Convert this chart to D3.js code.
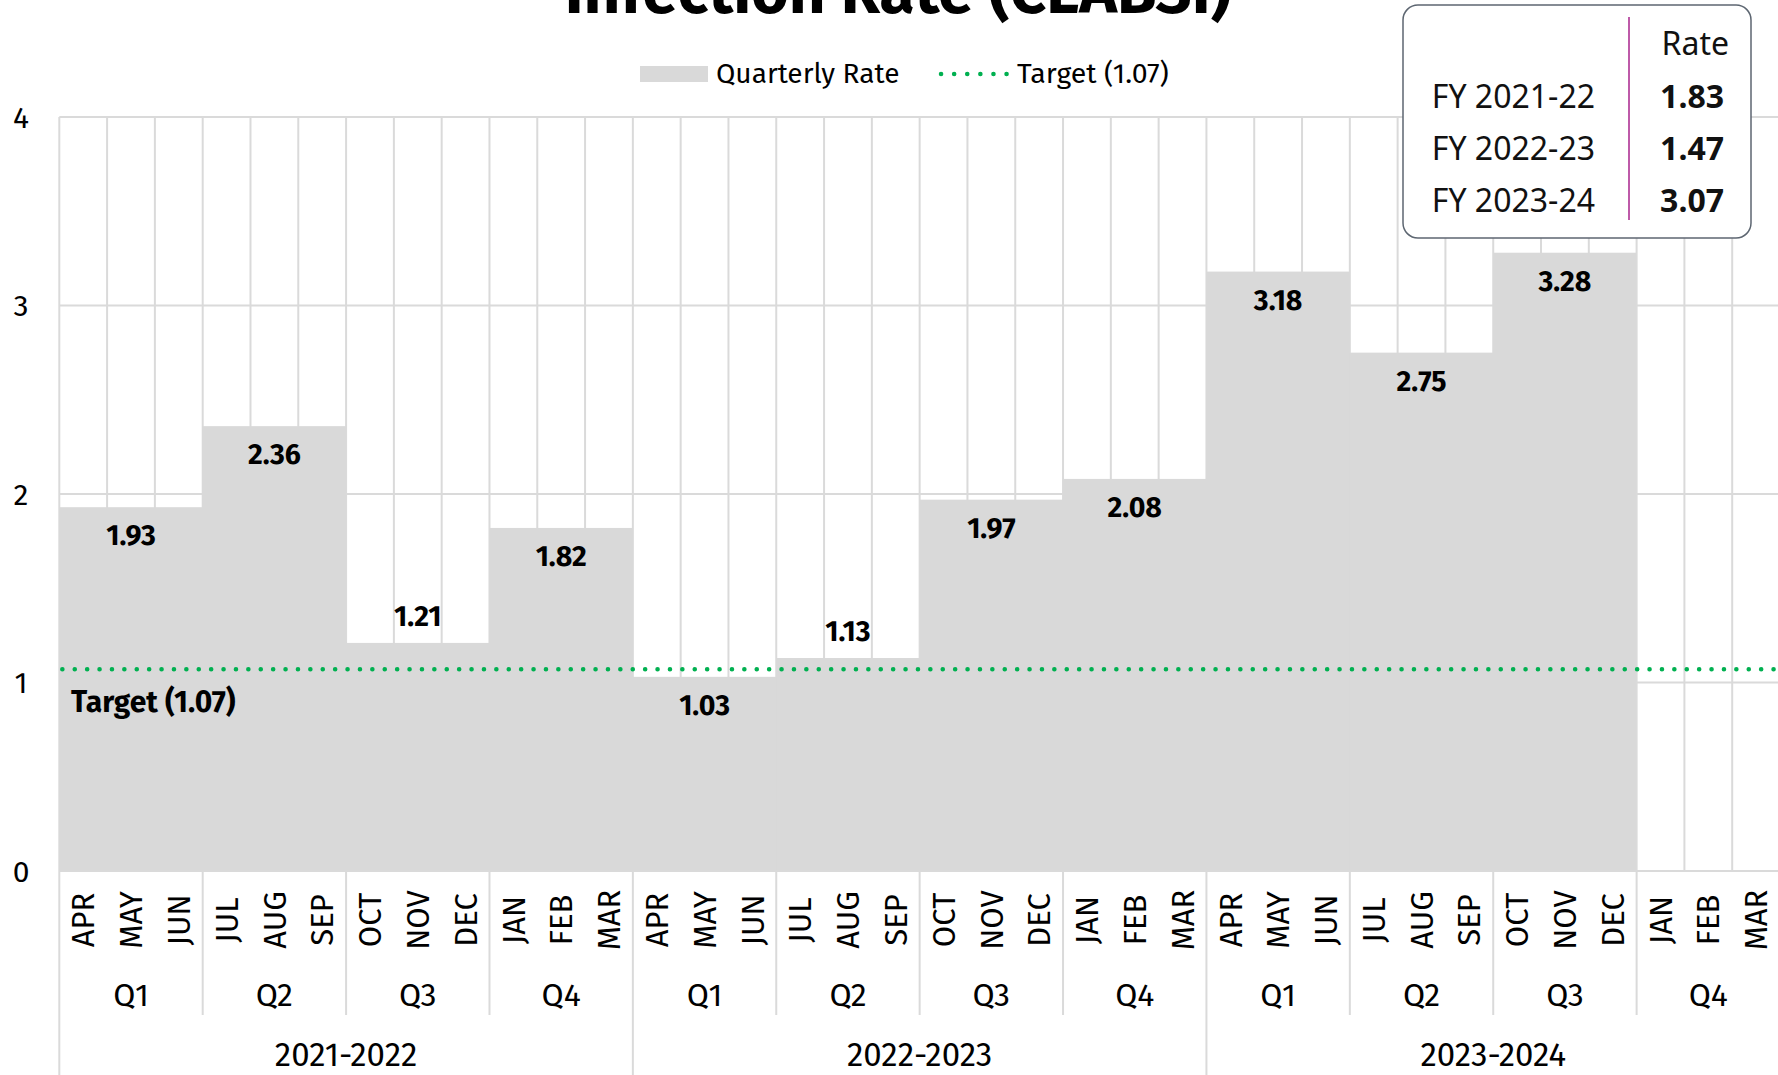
<!DOCTYPE html>
<html>
<head>
<meta charset="utf-8">
<script src="https://cdn.jsdelivr.net/npm/d3@7"></script>
<style>
  html, body { margin: 0; padding: 0; background: #fff; overflow: hidden; }
  text { font-family: "Fira Sans", "Open Sans", sans-serif; fill: #000; }
  .tip text { font-family: "Noto Sans", sans-serif; fill: #111; }
</style>
</head>
<body>
<div id="chart"></div>
<script>
// chart values
const years = ['2021-2022', '2022-2023', '2023-2024']
const quarters = ['Q1', 'Q2', 'Q3', 'Q4']
const months = ['APR', 'MAY', 'JUN', 'JUL', 'AUG', 'SEP', 'OCT', 'NOV', 'DEC', 'JAN', 'FEB', 'MAR']
const quarterlyRate = [1.93, 2.36, 1.21, 1.82, 1.03, 1.13, 1.97, 2.08, 3.18, 2.75, 3.28, null]
const target = 1.07
const yTicks = [0, 1, 2, 3, 4]
const fyLabels = ['FY 2021-22', 'FY 2022-23', 'FY 2023-24']
const fyRates = [1.83, 1.47, 3.07]

let width = 1778
let height = 1075

let svg = d3
  .select('#chart')
  .append('svg')
  .attr('width', width)
  .attr('height', height)

let nMonths = years.length * months.length

let x = d3.scaleLinear().domain([0, nMonths]).range([59.3, 1780])
let y = d3.scaleLinear().domain([0, 4]).range([871, 117])

let grid = '#dadada'
let barFill = '#d9d9d9'

// month + quarter rows built from the arrays
let monthRows = []
years.forEach((yr, yi) => {
  months.forEach((m, mi) => monthRows.push({ label: m, i: yi * 12 + mi }))
})
let quarterRows = []
years.forEach((yr, yi) => {
  quarters.forEach((q, qi) => {
    quarterRows.push({ label: q, i: yi * 4 + qi, value: quarterlyRate[yi * 4 + qi] })
  })
})

// vertical gridlines at every month
svg
  .selectAll('.vgrid')
  .data(d3.range(nMonths + 1))
  .enter()
  .append('line')
  .attr('x1', d => x(d))
  .attr('x2', d => x(d))
  .attr('y1', y(4))
  .attr('y2', y(0))
  .attr('stroke', grid)
  .attr('stroke-width', 2)

// horizontal gridlines
svg
  .selectAll('.hgrid')
  .data(yTicks)
  .enter()
  .append('line')
  .attr('x1', x(0))
  .attr('x2', x(nMonths))
  .attr('y1', d => y(d))
  .attr('y2', d => y(d))
  .attr('stroke', grid)
  .attr('stroke-width', 2)

// quarterly step bars
let bars = quarterRows.filter(d => d.value != null)
svg
  .selectAll('.bar')
  .data(bars)
  .enter()
  .append('rect')
  .attr('x', d => x(d.i * 3))
  .attr('width', d => x(d.i * 3 + 3) - x(d.i * 3))
  .attr('y', d => y(d.value))
  .attr('height', d => y(0) - y(d.value))
  .attr('fill', barFill)

// x axis base line
svg
  .append('line')
  .attr('x1', x(0))
  .attr('x2', x(nMonths))
  .attr('y1', y(0))
  .attr('y2', y(0))
  .attr('stroke', grid)
  .attr('stroke-width', 2)

// target line
svg
  .append('line')
  .attr('x1', x(0) + 3)
  .attr('x2', x(nMonths))
  .attr('y1', y(target))
  .attr('y2', y(target))
  .attr('stroke', '#00b050')
  .attr('stroke-width', 4.5)
  .attr('stroke-linecap', 'round')
  .attr('stroke-dasharray', '0.1 12.3')

svg
  .append('text')
  .text('Target (' + target.toFixed(2) + ')')
  .attr('x', 71)
  .attr('y', y(target) + 43)
  .attr('font-size', '30px')
  .attr('font-weight', 'bold')

// value labels (above the bar when it sits just over the target line)
svg
  .selectAll('.val')
  .data(bars)
  .enter()
  .append('text')
  .text(d => d.value.toFixed(2))
  .attr('x', d => x(d.i * 3 + 1.5))
  .attr('y', d => {
    if (d.value > target && d.value - target < 0.3) return y(d.value) - 17
    return y(d.value) + 38
  })
  .attr('text-anchor', 'middle')
  .attr('font-size', '28.5px')
  .attr('font-weight', 'bold')

// y tick labels
svg
  .selectAll('.ytick')
  .data(yTicks)
  .enter()
  .append('text')
  .text(d => d)
  .attr('x', 21)
  .attr('y', d => y(d))
  .attr('dy', '0.36em')
  .attr('text-anchor', 'middle')
  .attr('font-size', '30px')

// month labels (rotated)
svg
  .selectAll('.month')
  .data(monthRows)
  .enter()
  .append('text')
  .text(d => d.label)
  .attr('transform', d => 'translate(' + x(d.i + 0.5) + ',920) rotate(-90)')
  .attr('dy', '0.36em')
  .attr('text-anchor', 'middle')
  .attr('font-size', '31px')

// quarter labels + separators
svg
  .selectAll('.qlab')
  .data(quarterRows)
  .enter()
  .append('text')
  .text(d => d.label)
  .attr('x', d => x(d.i * 3 + 1.5))
  .attr('y', 1006)
  .attr('text-anchor', 'middle')
  .attr('font-size', '32px')

svg
  .selectAll('.qsep')
  .data(d3.range(0, nMonths + 1, 3))
  .enter()
  .append('line')
  .attr('x1', d => x(d))
  .attr('x2', d => x(d))
  .attr('y1', y(0))
  .attr('y2', d => (d % 12 == 0 ? height : 1015))
  .attr('stroke', grid)
  .attr('stroke-width', 2)

// year labels
svg
  .selectAll('.ylab')
  .data(years)
  .enter()
  .append('text')
  .text(d => d)
  .attr('x', (d, i) => x(i * 12 + 6))
  .attr('y', 1066)
  .attr('text-anchor', 'middle')
  .attr('font-size', '33px')

// title (partly above the page edge)
svg
  .append('text')
  .text('Infection Rate (CLABSI)')
  .attr('x', 898)
  .attr('y', 13)
  .attr('text-anchor', 'middle')
  .attr('font-size', '64px')
  .attr('font-weight', 'bold')

// legend
svg
  .append('rect')
  .attr('x', 640)
  .attr('y', 66)
  .attr('width', 68)
  .attr('height', 16)
  .attr('fill', barFill)

svg
  .append('text')
  .text('Quarterly Rate')
  .attr('x', 716)
  .attr('y', 83)
  .attr('font-size', '28px')

svg
  .append('line')
  .attr('x1', 941)
  .attr('x2', 1008)
  .attr('y1', 74)
  .attr('y2', 74)
  .attr('stroke', '#00b050')
  .attr('stroke-width', 4.5)
  .attr('stroke-linecap', 'round')
  .attr('stroke-dasharray', '0.1 13')

svg
  .append('text')
  .text('Target (' + target.toFixed(2) + ')')
  .attr('x', 1017)
  .attr('y', 83)
  .attr('font-size', '28.5px')

// FY summary box
let tip = svg.append('g').attr('class', 'tip')

tip
  .append('rect')
  .attr('x', 1403)
  .attr('y', 5)
  .attr('width', 348)
  .attr('height', 233)
  .attr('rx', 15)
  .attr('fill', '#fff')
  .attr('stroke', '#5d6671')
  .attr('stroke-width', 1.5)

tip
  .append('line')
  .attr('x1', 1629)
  .attr('x2', 1629)
  .attr('y1', 17)
  .attr('y2', 220)
  .attr('stroke', '#a8238c')
  .attr('stroke-width', 1.5)

tip
  .append('text')
  .text('Rate')
  .attr('x', 1729)
  .attr('y', 55)
  .attr('text-anchor', 'end')
  .attr('font-size', '32px')

tip
  .selectAll('.fy')
  .data(fyLabels)
  .enter()
  .append('text')
  .text(d => d)
  .attr('x', 1595)
  .attr('y', (d, i) => 108 + i * 52)
  .attr('text-anchor', 'end')
  .attr('font-size', '32px')

tip
  .selectAll('.fyv')
  .data(fyRates)
  .enter()
  .append('text')
  .text(d => d.toFixed(2))
  .attr('x', 1724)
  .attr('y', (d, i) => 108 + i * 52)
  .attr('text-anchor', 'end')
  .attr('font-size', '32px')
  .attr('font-weight', 'bold')
</script>
</body>
</html>
